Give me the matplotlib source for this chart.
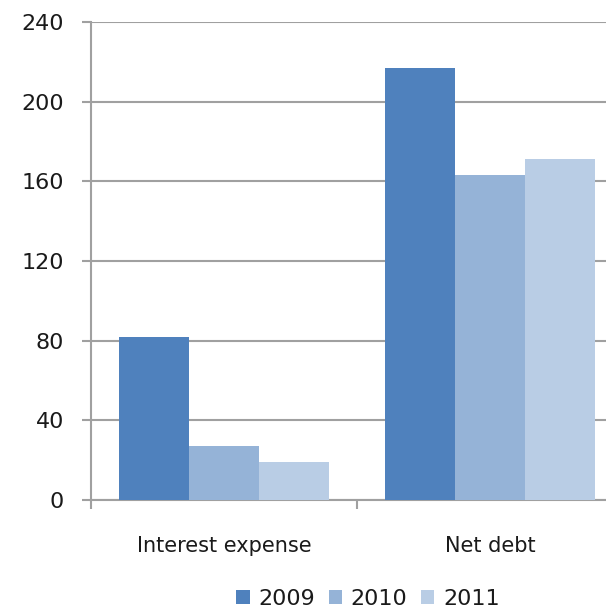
import matplotlib

matplotlib.use("Agg")
import matplotlib.pyplot as plt
from matplotlib.patches import Patch

categories = ["Interest expense", "Net debt"]
years = ["2009", "2010", "2011"]
values_2009 = [82, 217]
values_2010 = [27, 163]
values_2011 = [19, 171]
colors = ["#4f81bd", "#95b3d7", "#b9cde5"]
y_ticks = [0, 40, 80, 120, 160, 200, 240]

GRID = "#a0a0a0"

fig = plt.figure(figsize=(6.06, 6.11), dpi=100)
# plot area runs off the right edge of the figure
ax = fig.add_axes([91 / 606, 111 / 611, 532 / 606, 478 / 611])

w = 0.263
xs = range(len(categories))
series = [values_2009, values_2010, values_2011]
for i, (vals, c) in enumerate(zip(series, colors)):
    ax.bar([x + (i - 1) * w for x in xs], vals, width=w, color=c,
           edgecolor="none", zorder=3)

ax.set_xlim(-0.5, 1.5)
ax.set_ylim(0, 240)
ax.set_yticks(y_ticks)
ax.yaxis.grid(True, color=GRID, linewidth=1.5, zorder=0)
ax.tick_params(axis="y", length=6.5, width=1.5, color=GRID, pad=13,
               labelsize=16, labelcolor="#1a1a1a")

# category boundaries get the tick marks, names sit between them
ax.set_xticks([-0.5, 0.5, 1.5])
ax.set_xticklabels([])
ax.tick_params(axis="x", which="major", length=6.5, width=1.5, color=GRID)
ax.set_xticks(list(xs), minor=True)
ax.set_xticklabels(categories, minor=True)
ax.tick_params(axis="x", which="minor", length=0, pad=26,
               labelsize=15, labelcolor="#1a1a1a")

for side in ("top", "right"):
    ax.spines[side].set_visible(False)
for side in ("left", "bottom"):
    ax.spines[side].set_color(GRID)
    ax.spines[side].set_linewidth(1.5)

handles = [Patch(facecolor=c, edgecolor="none") for c in colors]
fig.legend(handles, years, loc="center", bbox_to_anchor=(368 / 606, 12 / 611),
           ncol=3, frameon=False, fontsize=16, handlelength=0.6,
           handleheight=0.6, handletextpad=0.4, columnspacing=0.6,
           labelcolor="#1a1a1a", borderpad=0.1)

fig.savefig("out.png", dpi=100)
